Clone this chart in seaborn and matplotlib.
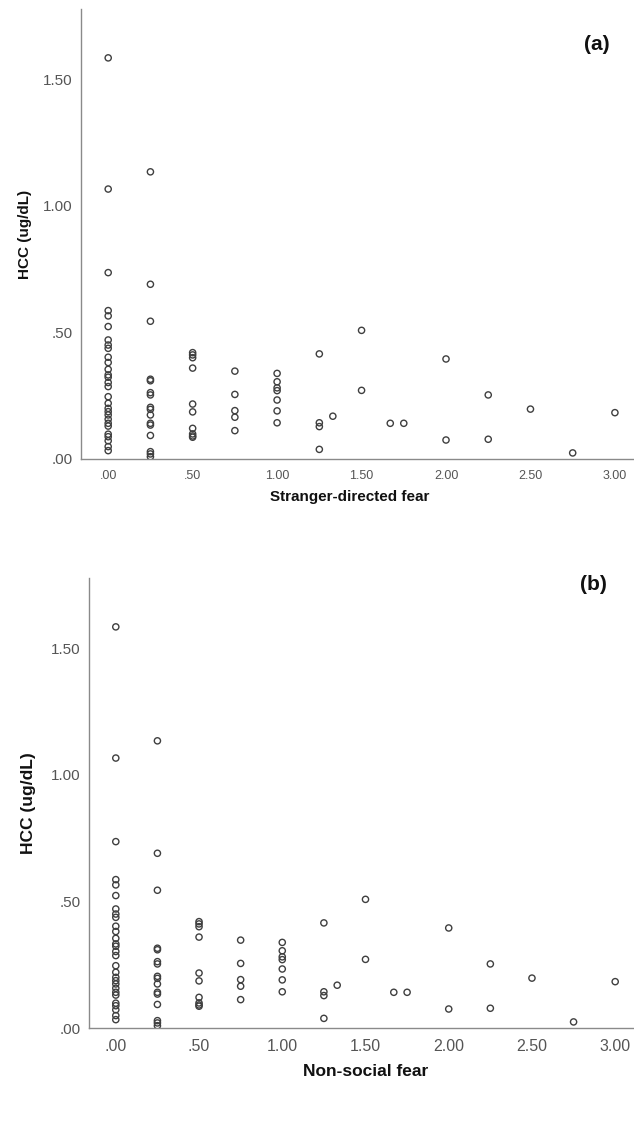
import matplotlib
matplotlib.use("Agg")
import matplotlib.pyplot as plt
import seaborn as sns
import pandas as pd
from matplotlib.ticker import FuncFormatter

# fear score (same observed values in both panels)
fear_score = (
    [0.00] * 29
    + [0.25] * 16
    + [0.50] * 10
    + [0.75] * 5
    + [1.00] * 7
    + [1.25] * 4
    + [1.33, 1.50, 1.50, 1.67, 1.75, 2.00, 2.00, 2.25, 2.25, 2.50, 2.75, 3.00]
)

# hair cortisol concentration (ug/dL)
hcc = (
    [1.584, 1.066, 0.736, 0.586, 0.565, 0.523, 0.470, 0.450, 0.437, 0.402,
     0.381, 0.354, 0.332, 0.323, 0.302, 0.286, 0.246, 0.220, 0.200, 0.187,
     0.174, 0.157, 0.141, 0.130, 0.098, 0.088, 0.072, 0.049, 0.033]
    + [1.134, 0.690, 0.544, 0.315, 0.309, 0.262, 0.253, 0.204, 0.196, 0.174,
       0.141, 0.134, 0.093, 0.029, 0.020, 0.009]
    + [0.420, 0.411, 0.400, 0.359, 0.217, 0.186, 0.121, 0.099, 0.091, 0.086]
    + [0.347, 0.255, 0.191, 0.165, 0.112]
    + [0.338, 0.305, 0.281, 0.270, 0.233, 0.190, 0.143]
    + [0.415, 0.143, 0.128, 0.038]
    + [0.169, 0.508, 0.271, 0.141, 0.141, 0.395, 0.075, 0.253, 0.078, 0.197,
       0.024, 0.183]
)

x_ticks = [0.0, 0.5, 1.0, 1.5, 2.0, 2.5, 3.0]
y_ticks = [0.0, 0.5, 1.0, 1.5]
panel_labels = ["(a)", "(b)"]
x_titles = ["Stranger-directed fear", "Non-social fear"]
y_title = "HCC (ug/dL)"

df = pd.DataFrame({"fear": fear_score, "hcc": hcc})

sns.set_theme(style="white")
plt.rcParams["font.family"] = ["Liberation Sans", "DejaVu Sans"]


def spss_fmt(v, pos):
    # SPSS style: ".50" instead of "0.50"
    s = "%.2f" % v
    if s.startswith("0"):
        s = s[1:]
    return s


fig = plt.figure(figsize=(6.34, 11.37), dpi=100)
fig.patch.set_facecolor("white")

W, H = 634.0, 1137.0
# pixel positions measured from the top-left of the reference
layouts = [
    dict(left=81, bottom=459, top=9, xtick=9, ytick=11, lab=11,
         xlab=(350, 497), ylab=(25, 234), panel=(597, 45)),
    dict(left=89, bottom=1028, top=578, xtick=11.5, ytick=11, lab=12.5,
         xlab=(366, 1072), ylab=(28, 803), panel=(593, 584)),
]

for i, lay in enumerate(layouts):
    ax = fig.add_axes([lay["left"] / W, 1 - lay["bottom"] / H,
                       (W - lay["left"]) / W, (lay["bottom"] - lay["top"]) / H])
    sns.scatterplot(data=df, x="fear", y="hcc", ax=ax, marker="o",
                    facecolor="none", edgecolor="#3f3f3f", linewidth=1.0,
                    s=20, legend=False)
    ax.set_xlim(-0.161, 3.113)
    ax.set_ylim(0, 1.777)
    ax.set_xticks(x_ticks)
    ax.set_yticks(y_ticks)
    ax.xaxis.set_major_formatter(FuncFormatter(spss_fmt))
    ax.yaxis.set_major_formatter(FuncFormatter(spss_fmt))
    for side in ["top", "right"]:
        ax.spines[side].set_visible(False)
    for side in ["left", "bottom"]:
        ax.spines[side].set_color("#8a8a8a")
        ax.spines[side].set_linewidth(1.0)
    ax.tick_params(axis="both", direction="out", length=5, width=1,
                   color="#8a8a8a", labelcolor="#555555")
    ax.tick_params(axis="x", labelsize=lay["xtick"], pad=3)
    ax.tick_params(axis="y", labelsize=lay["ytick"], pad=1)
    ax.set_xlabel("")
    ax.set_ylabel("")
    ax.set_facecolor("white")

    fig.text(lay["xlab"][0] / W, 1 - lay["xlab"][1] / H, x_titles[i],
             ha="center", va="center", fontsize=lay["lab"],
             fontweight="bold", color="#111111")
    fig.text(lay["ylab"][0] / W, 1 - lay["ylab"][1] / H, y_title,
             ha="center", va="center", rotation=90,
             fontsize=lay["lab"], fontweight="bold", color="#111111")
    px, py = lay["panel"]
    fig.text(px / W, 1 - py / H, panel_labels[i], ha="center", va="center",
             fontsize=15, fontweight="bold", color="#111111")

fig.savefig("out.png", dpi=100, facecolor="white")
